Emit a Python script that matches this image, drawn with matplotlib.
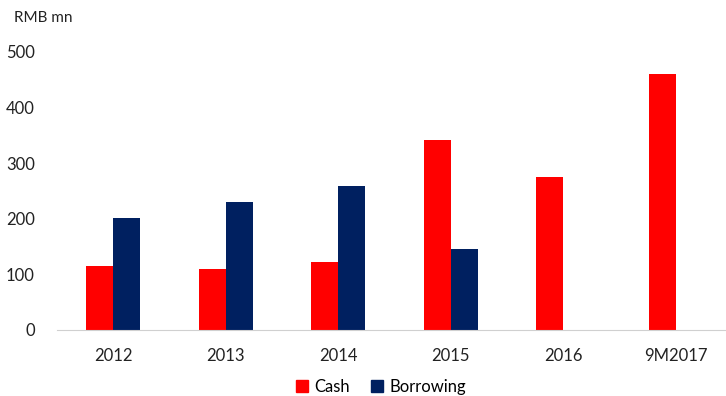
import numpy as np
import matplotlib.pyplot as plt
from matplotlib.patches import Patch

plt.rcParams['font.family'] = ['Lato', 'DejaVu Sans']

# data
years = ['2012', '2013', '2014', '2015', '2016', '9M2017']
cash = [115, 109, 122, 342, 275, 460]
borrowing = [201, 230, 259, 145, 0, 0]

red = '#ff0000'
navy = '#002060'

fig = plt.figure(figsize=(7.26, 3.96), dpi=100)
ax = fig.add_axes([0.0785, 0.1667, 0.93, 0.702])

x = np.arange(len(years))
w = 0.24
ax.bar(x - w / 2, cash, w, color=red)
ax.bar(x + w / 2, borrowing, w, color=navy)

ax.set_xlim(-0.5, 5.5)
ax.set_ylim(0, 500)
ax.set_yticks(range(0, 501, 100))
ax.set_xticks(x)
ax.set_xticklabels(years)

for s in ['top', 'right', 'left']:
    ax.spines[s].set_visible(False)
ax.spines['bottom'].set_color('#d0d0d0')
ax.tick_params(axis='both', length=0, labelsize=12, colors='#222222')
ax.tick_params(axis='x', pad=13)
ax.tick_params(axis='y', pad=16)

fig.text(0.019, 0.955, 'RMB mn', fontsize=11, color='#222222', va='center')

# legend at the bottom, kept just inside the figure
handles = [Patch(color=red, label='Cash'), Patch(color=navy, label='Borrowing')]
fig.legend(handles=handles, loc='lower center', bbox_to_anchor=(0.525, -0.035), ncol=2,
           frameon=False, fontsize=12, handlelength=0.7, handleheight=0.7,
           handletextpad=0.4, columnspacing=1.3)

fig.savefig('out.png', dpi=100)
